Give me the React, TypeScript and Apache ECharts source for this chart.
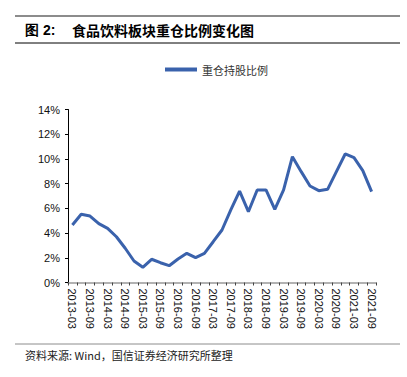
import React, { useEffect, useRef } from "react";
import * as echarts from "echarts";

const categories = [
  "2013-03", "2013-06", "2013-09", "2013-12",
  "2014-03", "2014-06", "2014-09", "2014-12",
  "2015-03", "2015-06", "2015-09", "2015-12",
  "2016-03", "2016-06", "2016-09", "2016-12",
  "2017-03", "2017-06", "2017-09", "2017-12",
  "2018-03", "2018-06", "2018-09", "2018-12",
  "2019-03", "2019-06", "2019-09", "2019-12",
  "2020-03", "2020-06", "2020-09", "2020-12",
  "2021-03", "2021-06", "2021-09",
];

const heavyRatio = [
  4.65, 5.52, 5.38, 4.76, 4.38, 3.7, 2.77, 1.74, 1.23, 1.88,
  1.6, 1.36, 1.9, 2.36, 2.01, 2.36, 3.3, 4.25, 5.87, 7.4,
  5.73, 7.49, 7.49, 5.92, 7.49, 10.18, 8.97, 7.81, 7.43, 7.54,
  8.97, 10.4, 10.1, 9.05, 7.35,
];

const yTicks = [0, 2, 4, 6, 8, 10, 12, 14];

const seriesName = "重仓持股比例";
const titleNo = "图 2:";
const titleText = "食品饮料板块重仓比例变化图";
const sourceText = "资料来源: Wind，国信证券经济研究所整理";

export default function App() {
  const ref = useRef<HTMLDivElement>(null);
  useEffect(() => {
    if (!ref.current) return;
    const chart = echarts.init(ref.current, null, { renderer: "svg" });
    chart.setOption({
      animation: false,
      backgroundColor: "#ffffff",
      textStyle: { fontFamily: "Liberation Sans, Arial, sans-serif" },
      graphic: [
        { type: "line", shape: { x1: 15, y1: 16, x2: 400, y2: 16 }, style: { stroke: "#8c8c8c", lineWidth: 2 } },
        { type: "line", shape: { x1: 15, y1: 43, x2: 400, y2: 43 }, style: { stroke: "#000", lineWidth: 1 } },
        { type: "text", x: 25, y: 30, style: { text: titleNo, fontSize: 14, fontWeight: "bold", fill: "#000", verticalAlign: "middle", fontFamily: "Liberation Sans, Arial, sans-serif" } },
        { type: "text", x: 72, y: 30, style: { text: titleText, fontSize: 14, fontWeight: "bold", fill: "#000", verticalAlign: "middle", fontFamily: "Noto Sans CJK SC" } },
        { type: "line", shape: { x1: 15, y1: 344, x2: 400, y2: 344 }, style: { stroke: "#8c8c8c", lineWidth: 1 } },
        { type: "text", x: 25, y: 355, style: { text: sourceText, fontSize: 11, fill: "#222", verticalAlign: "middle", fontFamily: "Noto Sans CJK SC" } },
      ],
      legend: {
        left: 160,
        top: 59,
        icon: "rect",
        itemWidth: 32,
        itemHeight: 4,
        itemGap: 10,
        textStyle: { fontSize: 11, color: "#333", fontFamily: "Noto Sans CJK SC" },
        data: [seriesName],
      },
      grid: { left: 68, right: 31, top: 109.5, bottom: 94.5, containLabel: false },
      xAxis: {
        type: "category",
        data: categories,
        boundaryGap: true,
        axisLine: { lineStyle: { color: "#999", width: 1.5 } },
        axisTick: { show: true, interval: 0, length: 3, lineStyle: { color: "#444" } },
        axisLabel: {
          interval: 1,
          rotate: -90,
          fontSize: 11,
          color: "#111",
          margin: 6,
          fontFamily: "Liberation Sans, Arial, sans-serif",
        },
        splitLine: { show: false },
      },
      yAxis: {
        type: "value",
        min: yTicks[0],
        max: yTicks[yTicks.length - 1],
        interval: 2,
        axisLine: { show: true, lineStyle: { color: "#000", width: 1 } },
        axisTick: { show: true, length: 3, lineStyle: { color: "#000" } },
        axisLabel: { formatter: "{value}%", fontSize: 11, color: "#111", margin: 8 },
        splitLine: { show: false },
      },
      series: [
        {
          name: seriesName,
          type: "line",
          data: heavyRatio,
          symbol: "none",
          lineStyle: { width: 3, color: "#3A62AC" },
          itemStyle: { color: "#3A62AC" },
        },
      ],
    });
    return () => chart.dispose();
  }, []);
  return (
    <div
      ref={ref}
      style={{ position: "fixed", left: 0, top: 0, width: 407, height: 377 }}
    />
  );
}
